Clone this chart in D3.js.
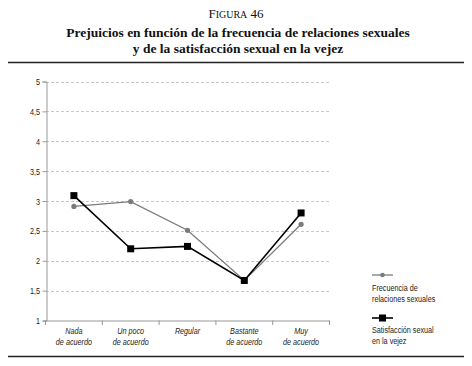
<!DOCTYPE html>
<html><head><meta charset="utf-8">
<script src="https://cdn.jsdelivr.net/npm/d3@7"></script>
<style>
body{margin:0;background:#fff;}
svg{display:block;}
</style></head>
<body>
<script>
const categories = [["Nada","de acuerdo"],["Un poco","de acuerdo"],["Regular"],["Bastante","de acuerdo"],["Muy","de acuerdo"]];
const frecuencia = [2.91, 2.99, 2.51, 1.67, 2.61];
const satisfaccion = [3.09, 2.20, 2.24, 1.67, 2.80];
const yTicks = [1, 1.5, 2, 2.5, 3, 3.5, 4, 4.5, 5];
const seriesNames = [["Frecuencia de","relaciones sexuales"],["Satisfacción sexual","en la vejez"]];

const W = 472, H = 366;
const svg = d3.select("body").append("svg").attr("width", W).attr("height", H);

const serif = "'Liberation Serif','Times New Roman',serif";
const sans = "'Liberation Sans',Arial,sans-serif";
const SX = 0.76; // horizontal condensing to mimic Arial Narrow

function narrowText(g, x0, y0, lines, opts) {
  const t = g.append("text")
    .attr("transform", `translate(${x0},${y0}) scale(${SX},1)`)
    .attr("text-anchor", opts.anchor || "start")
    .attr("font-family", sans).attr("font-size", opts.size || 9.5)
    .attr("font-style", opts.italic ? "italic" : null)
    .attr("fill", "#222");
  lines.forEach((s, i) => t.append("tspan").attr("x", 0).attr("y", i * (opts.lh || 11.5)).text(s));
  return t;
}

// Title
const t1 = svg.append("text").attr("x", 236).attr("y", 18).attr("text-anchor","middle")
  .attr("font-family", serif).attr("font-size", 13).attr("fill","#111");
t1.append("tspan").text("F");
t1.append("tspan").attr("font-size", 10).text("IGURA");
t1.append("tspan").text(" 46");
svg.append("text").attr("x",238).attr("y",37).attr("text-anchor","middle")
  .attr("font-family",serif).attr("font-weight","bold").attr("font-size",13.5).attr("fill","#111")
  .text("Prejuicios en función de la frecuencia de relaciones sexuales");
svg.append("text").attr("x",238).attr("y",53).attr("text-anchor","middle")
  .attr("font-family",serif).attr("font-weight","bold").attr("font-size",13.5).attr("fill","#111")
  .text("y de la satisfacción sexual en la vejez");
svg.append("line").attr("x1",8).attr("x2",464).attr("y1",62.5).attr("y2",62.5).attr("stroke","#222").attr("stroke-width",1.6);
svg.append("line").attr("x1",8).attr("x2",464).attr("y1",356.5).attr("y2",356.5).attr("stroke","#222").attr("stroke-width",1.6);

const x = d3.scaleBand().domain(d3.range(categories.length)).range([45.5, 329.5]);
const y = d3.scaleLinear().domain([1,5]).range([320.5, 81.5]);

// grid
svg.append("g").selectAll("line").data(yTicks.filter(d=>d>1)).join("line")
  .attr("x1",46).attr("x2",330).attr("y1",d=>Math.round(y(d))+0.5).attr("y2",d=>Math.round(y(d))+0.5)
  .attr("stroke","#c8c8c8").attr("stroke-dasharray","3,2").attr("stroke-width",1);

// y axis
const ya = svg.append("g").attr("transform","translate(46.5,0)")
  .call(d3.axisLeft(y).tickValues(yTicks).tickSize(4).tickFormat(""));
ya.select(".domain").attr("stroke","#999");
ya.selectAll(".tick line").attr("stroke","#999");
const yl = svg.append("g");
yTicks.forEach(v => narrowText(yl, 40, y(v) + 3.5, [String(v).replace(".", ",")], {anchor: "end", size: 9.5}));

// x axis
const xa = svg.append("g").attr("transform","translate(0,320.5)")
  .call(d3.axisBottom(x).tickValues([]).tickSizeOuter(0));
xa.select(".domain").attr("stroke","#999");
const bounds = d3.range(categories.length+1).map(i => i<categories.length ? x(i) : x(i-1)+x.bandwidth());
svg.append("g").selectAll("line").data(bounds).join("line")
  .attr("x1",d=>d).attr("x2",d=>d).attr("y1",320.5).attr("y2",325).attr("stroke","#999");
const xl = svg.append("g");
categories.forEach((c, i) => narrowText(xl, x(i) + x.bandwidth()/2, 334, c, {anchor: "middle", italic: true, size: 9.5, lh: 11}));

const cx = i => x(i)+x.bandwidth()/2;
const line = d3.line().x((d,i)=>cx(i)).y(d=>y(d));

// frecuencia (grey)
svg.append("path").attr("d",line(frecuencia)).attr("fill","none").attr("stroke","#7a7a7a").attr("stroke-width",1.3);
svg.append("g").selectAll("circle").data(frecuencia).join("circle")
  .attr("cx",(d,i)=>cx(i)).attr("cy",d=>y(d)).attr("r",2.6).attr("fill","#7a7a7a");

// satisfaccion (black)
svg.append("path").attr("d",line(satisfaccion)).attr("fill","none").attr("stroke","#000").attr("stroke-width",1.6);
svg.append("g").selectAll("rect").data(satisfaccion).join("rect")
  .attr("x",(d,i)=>cx(i)-3.5).attr("y",d=>y(d)-3.5).attr("width",7).attr("height",7).attr("fill","#000");

// legend
const lg = svg.append("g");
lg.append("line").attr("x1",372).attr("x2",393).attr("y1",275).attr("y2",275).attr("stroke","#7a7a7a").attr("stroke-width",1.3);
lg.append("circle").attr("cx",382.5).attr("cy",275).attr("r",2.3).attr("fill","#7a7a7a");
lg.append("line").attr("x1",372).attr("x2",393).attr("y1",318).attr("y2",318).attr("stroke","#000").attr("stroke-width",1.6);
lg.append("rect").attr("x",379).attr("y",314.5).attr("width",7).attr("height",7).attr("fill","#000");
narrowText(lg, 372, 291, seriesNames[0], {size: 9.5, lh: 11});
narrowText(lg, 372, 333, seriesNames[1], {size: 9.5, lh: 11});
</script>
</body></html>
